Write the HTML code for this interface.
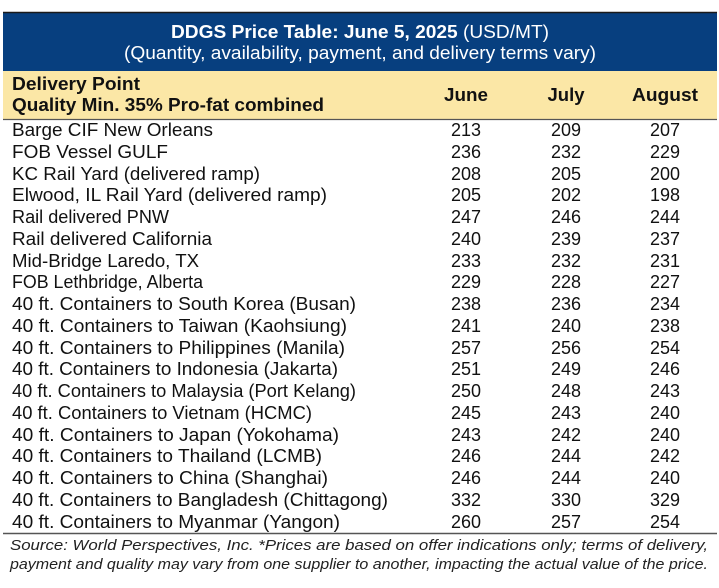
<!DOCTYPE html>
<html><head><meta charset="utf-8"><style>
html,body{margin:0;padding:0;background:#fff;}
svg{display:block;font-family:"Liberation Sans",Arial,sans-serif;}
</style></head><body>
<svg width="719" height="588" viewBox="0 0 719 588" xmlns="http://www.w3.org/2000/svg" font-family="Liberation Sans, Arial, sans-serif">
<rect x="3" y="12" width="714" height="59" fill="#073f7f"/>
<line x1="3" y1="12.5" x2="717" y2="12.5" stroke="#1a1a1a" stroke-width="1.5"/>
<text x="360" y="38" text-anchor="middle" fill="#fff" font-size="18" textLength="378" lengthAdjust="spacingAndGlyphs"><tspan font-weight="bold">DDGS Price Table: June 5, 2025</tspan> (USD/MT)</text>
<text x="360" y="59" text-anchor="middle" fill="#fff" font-size="18" textLength="472" lengthAdjust="spacingAndGlyphs">(Quantity, availability, payment, and delivery terms vary)</text>
<rect x="3" y="71" width="714" height="48" fill="#fbe7a6"/>
<line x1="3" y1="119.5" x2="717" y2="119.5" stroke="#555" stroke-width="1.2"/>
<g font-weight="bold" font-size="18" fill="#111">
<text x="12" y="90" textLength="128" lengthAdjust="spacingAndGlyphs">Delivery Point</text>
<text x="12" y="111" textLength="312" lengthAdjust="spacingAndGlyphs">Quality Min. 35% Pro-fat combined</text>
<text x="466" y="101" text-anchor="middle" textLength="44" lengthAdjust="spacingAndGlyphs">June</text>
<text x="566" y="101" text-anchor="middle" textLength="37" lengthAdjust="spacingAndGlyphs">July</text>
<text x="665" y="101" text-anchor="middle" textLength="66" lengthAdjust="spacingAndGlyphs">August</text>
</g>
<line x1="3" y1="533.5" x2="717" y2="533.5" stroke="#555" stroke-width="1.5"/>
<g font-size="15" font-style="italic" fill="#222">
<text x="10" y="550" textLength="698" lengthAdjust="spacingAndGlyphs">Source: World Perspectives, Inc. *Prices are based on offer indications only; terms of delivery,</text>
<text x="10" y="569" textLength="698" lengthAdjust="spacingAndGlyphs">payment and quality may vary from one supplier to another, impacting the actual value of the price.</text>
</g>
<g font-size="18" fill="#111" lengthAdjust="spacingAndGlyphs">
<text x="12" y="136" textLength="201" lengthAdjust="spacingAndGlyphs">Barge CIF New Orleans</text>
<text x="12" y="158" textLength="156" lengthAdjust="spacingAndGlyphs">FOB Vessel GULF</text>
<text x="12" y="180" textLength="248" lengthAdjust="spacingAndGlyphs">KC Rail Yard (delivered ramp)</text>
<text x="12" y="201" textLength="315" lengthAdjust="spacingAndGlyphs">Elwood, IL Rail Yard (delivered ramp)</text>
<text x="12" y="223" textLength="157" lengthAdjust="spacingAndGlyphs">Rail delivered PNW</text>
<text x="12" y="245" textLength="200" lengthAdjust="spacingAndGlyphs">Rail delivered California</text>
<text x="12" y="267" textLength="187" lengthAdjust="spacingAndGlyphs">Mid-Bridge Laredo, TX</text>
<text x="12" y="288" textLength="191" lengthAdjust="spacingAndGlyphs">FOB Lethbridge, Alberta</text>
<text x="12" y="310" textLength="344" lengthAdjust="spacingAndGlyphs">40 ft. Containers to South Korea (Busan)</text>
<text x="12" y="332" textLength="335" lengthAdjust="spacingAndGlyphs">40 ft. Containers to Taiwan (Kaohsiung)</text>
<text x="12" y="354" textLength="333" lengthAdjust="spacingAndGlyphs">40 ft. Containers to Philippines (Manila)</text>
<text x="12" y="375" textLength="326" lengthAdjust="spacingAndGlyphs">40 ft. Containers to Indonesia (Jakarta)</text>
<text x="12" y="397" textLength="344" lengthAdjust="spacingAndGlyphs">40 ft. Containers to Malaysia (Port Kelang)</text>
<text x="12" y="419" textLength="300" lengthAdjust="spacingAndGlyphs">40 ft. Containers to Vietnam (HCMC)</text>
<text x="12" y="441" textLength="327" lengthAdjust="spacingAndGlyphs">40 ft. Containers to Japan (Yokohama)</text>
<text x="12" y="462" textLength="310" lengthAdjust="spacingAndGlyphs">40 ft. Containers to Thailand (LCMB)</text>
<text x="12" y="484" textLength="316" lengthAdjust="spacingAndGlyphs">40 ft. Containers to China (Shanghai)</text>
<text x="12" y="506" textLength="376" lengthAdjust="spacingAndGlyphs">40 ft. Containers to Bangladesh (Chittagong)</text>
<text x="12" y="528" textLength="328" lengthAdjust="spacingAndGlyphs">40 ft. Containers to Myanmar (Yangon)</text>
</g>
<g font-size="18" fill="#111" text-anchor="middle">
<text x="466" y="136">213</text><text x="566" y="136">209</text><text x="665" y="136">207</text>
<text x="466" y="158">236</text><text x="566" y="158">232</text><text x="665" y="158">229</text>
<text x="466" y="180">208</text><text x="566" y="180">205</text><text x="665" y="180">200</text>
<text x="466" y="201">205</text><text x="566" y="201">202</text><text x="665" y="201">198</text>
<text x="466" y="223">247</text><text x="566" y="223">246</text><text x="665" y="223">244</text>
<text x="466" y="245">240</text><text x="566" y="245">239</text><text x="665" y="245">237</text>
<text x="466" y="267">233</text><text x="566" y="267">232</text><text x="665" y="267">231</text>
<text x="466" y="288">229</text><text x="566" y="288">228</text><text x="665" y="288">227</text>
<text x="466" y="310">238</text><text x="566" y="310">236</text><text x="665" y="310">234</text>
<text x="466" y="332">241</text><text x="566" y="332">240</text><text x="665" y="332">238</text>
<text x="466" y="354">257</text><text x="566" y="354">256</text><text x="665" y="354">254</text>
<text x="466" y="375">251</text><text x="566" y="375">249</text><text x="665" y="375">246</text>
<text x="466" y="397">250</text><text x="566" y="397">248</text><text x="665" y="397">243</text>
<text x="466" y="419">245</text><text x="566" y="419">243</text><text x="665" y="419">240</text>
<text x="466" y="441">243</text><text x="566" y="441">242</text><text x="665" y="441">240</text>
<text x="466" y="462">246</text><text x="566" y="462">244</text><text x="665" y="462">242</text>
<text x="466" y="484">246</text><text x="566" y="484">244</text><text x="665" y="484">240</text>
<text x="466" y="506">332</text><text x="566" y="506">330</text><text x="665" y="506">329</text>
<text x="466" y="528">260</text><text x="566" y="528">257</text><text x="665" y="528">254</text>
</g>
</svg>
</body></html>
